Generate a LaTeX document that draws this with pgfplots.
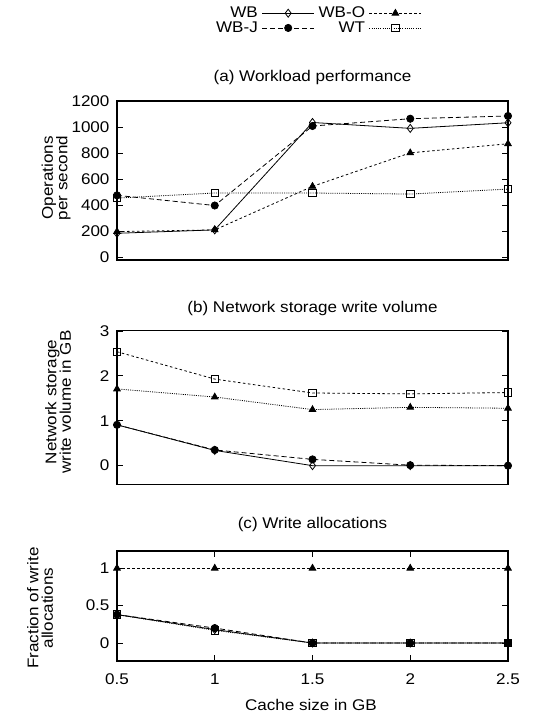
\documentclass[border=0pt]{standalone}
\usepackage{pgfplots}
\pgfplotsset{compat=1.18}
\usepackage{fontspec}
\setmainfont[FakeStretch=1.1]{Liberation Sans}
\begin{document}
\begin{tikzpicture}[x=1pt,y=1pt,font=\fontsize{15.5}{15.5}\selectfont]
\path[use as bounding box] (0,0) rectangle (546,715);
\pgfplotsset{
  every axis/.append style={
    scale only axis, width=391pt, anchor=south west,
    xmin=0.5, xmax=2.5,
    axis line style={line width=1.3pt},
    tick style={line width=1pt, black},
    tick align=inside, major tick length=6pt,
    /pgf/number format/assume math mode=true,
    /pgf/number format/1000 sep={},
    tick label style={font=\fontsize{15.5}{15.5}\selectfont},
    yticklabel style={xshift=-4pt},
  },
  wb/.style={black, line width=0.8pt, solid, mark=diamond, mark size=4pt, mark options={solid, fill=white, line width=0.8pt}},
  wbj/.style={black, line width=0.8pt, dash pattern=on 5pt off 3pt, mark=*, mark size=3.6pt, mark options={solid}},
  wbo/.style={black, line width=0.8pt, dash pattern=on 2.5pt off 2.5pt, mark=triangle*, mark size=3.8pt, mark options={solid}},
  wt/.style={black, line width=0.8pt, dash pattern=on 1pt off 1.2pt, mark=square, mark size=3.8pt, mark options={solid, line width=0.8pt}},
}
% (a)
\begin{axis}[
  at={(117pt,455pt)}, height=159pt,
  ymin=-20, ymax=1200, ytick={0,200,...,1200},
  xtick=\empty,
  legend columns=2,
  legend plot pos=right,
  legend cell align=right,
  legend image code/.code={\draw[mark repeat=2,mark phase=2,#1] plot coordinates {(0pt,0pt) (26pt,0pt) (52pt,0pt)};},
  legend style={at={(0.514,1.506)}, anchor=center, draw=none, fill=none,
    inner sep=0pt, row sep=-1.5pt, column sep=2pt,
    nodes={inner sep=2pt, font=\fontsize{15.5}{15.5}\selectfont}},
]
\addplot[wb] coordinates {(0.5,185) (1.0,211) (1.5,1035) (2.0,990) (2.5,1033)};
\addlegendentry{WB}
\addplot[wbo] coordinates {(0.5,198) (1.0,211) (1.5,545) (2.0,802) (2.5,872)};
\addlegendentry{WB-O}
\addplot[wbj] coordinates {(0.5,476) (1.0,398) (1.5,1008) (2.0,1064) (2.5,1085)};
\addlegendentry{WB-J}
\addplot[wt] coordinates {(0.5,455) (1.0,494) (1.5,494) (2.0,486) (2.5,524)};
\addlegendentry{WT}
\end{axis}
% (b)
\begin{axis}[
  at={(117pt,230.5pt)}, height=154.3pt,
  ymin=-0.42, ymax=3.02, ytick={0,1,2,3},
  xtick=\empty,
]
\addplot[wb] coordinates {(0.5,0.91) (1.0,0.34) (1.5,0.0) (2.0,0.0) (2.5,0.0)};
\addplot[wbj] coordinates {(0.5,0.91) (1.0,0.35) (1.5,0.14) (2.0,0.01) (2.5,0.0)};
\addplot[wbo, mark=square, mark size=3.8pt, mark options={solid, fill=white, line width=0.8pt}] coordinates {(0.5,2.54) (1.0,1.93) (1.5,1.62) (2.0,1.60) (2.5,1.63)};
\addplot[wt, mark=triangle*, mark size=3.8pt, mark options={solid}] coordinates {(0.5,1.71) (1.0,1.53) (1.5,1.25) (2.0,1.30) (2.5,1.28)};
\end{axis}
% (c)
\begin{axis}[
  at={(117pt,54pt)}, height=110pt,
  ymin=-0.24, ymax=1.23, ytick={0,0.5,1},
  xtick={0.5,1,1.5,2,2.5},
  xticklabel style={yshift=-9pt},
]
\addplot[wt] coordinates {(0.5,0.38) (1.0,0.17) (1.5,0.0) (2.0,0.0) (2.5,0.0)};
\addplot[wb] coordinates {(0.5,0.38) (1.0,0.18) (1.5,0.0) (2.0,0.0) (2.5,0.0)};
\addplot[wbj] coordinates {(0.5,0.38) (1.0,0.20) (1.5,0.0) (2.0,0.0) (2.5,0.0)};
\addplot[wbo] coordinates {(0.5,1.0) (1.0,1.0) (1.5,1.0) (2.0,1.0) (2.5,1.0)};
\end{axis}
% titles and labels
\node at (312.5,638) {(a) Workload performance};
\node at (312.5,407) {(b) Network storage write volume};
\node at (312.5,191) {(c) Write allocations};
\node at (311,10) {Cache size in GB};
\node[rotate=90, align=center, font=\fontsize{15.5}{14.5}\selectfont] at (56,537) {Operations\\per second};
\node[rotate=90, align=center, font=\fontsize{15.5}{14.5}\selectfont] at (58,313) {Network storage\\write volume in GB};
\node[rotate=90, align=center, font=\fontsize{15.5}{14.5}\selectfont] at (40,107) {Fraction of write\\allocations};
\end{tikzpicture}
\end{document}
